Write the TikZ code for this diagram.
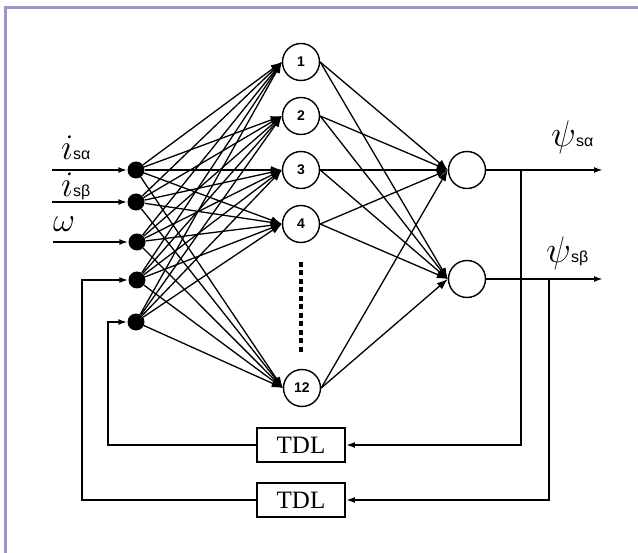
\RequirePackage{fix-cm}
\documentclass[tikz,border=0pt]{standalone}
\usepackage{fontspec}
\usetikzlibrary{arrows.meta}
\newfontfamily\subf{Liberation Sans}
\newfontfamily\tdlf{Liberation Serif}
\definecolor{framec}{RGB}{155,148,205}
\begin{document}
\begin{tikzpicture}[x=1pt,y=-1pt,
 dot/.style={circle,fill=black,inner sep=0pt,minimum size=17pt},
 neuron/.style={circle,draw=black,line width=1.4pt,inner sep=0pt,minimum size=37pt,font=\subf\bfseries\fontsize{14}{14}\selectfont},
 tdl/.style={draw,line width=1.8pt,minimum width=88pt,minimum height=34pt,inner sep=0pt,font=\tdlf\fontsize{25}{25}\selectfont},
 conn/.style={line width=1.3pt,-{Latex[length=11pt,width=8pt]}},
 inl/.style={line width=1.9pt,-{Latex[length=9pt,width=6pt]}},
 fb/.style={line width=1.9pt},
 lab/.style={anchor=base west,inner sep=0pt}
]
\useasboundingbox (0,0) rectangle (638,553);
\fill[white] (0,0) rectangle (638,553);
\draw[framec,line width=3pt] (5,553) -- (5,8) -- (638,8);

% input dots
\node[dot] (d1) at (136,170) {};
\node[dot] (d2) at (136,202) {};
\node[dot] (d3) at (137,242) {};
\node[dot] (d4) at (137,280) {};
\node[dot] (d5) at (136,322) {};

% hidden neurons
\node[neuron] (h1) at (301,62) {1};
\node[neuron] (h2) at (301,116) {2};
\node[neuron] (h3) at (301,170) {3};
\node[neuron] (h4) at (301,224) {4};
\node[neuron] (h12) at (302,388) {12};

% output neurons
\node[neuron] (o1) at (467,170) {};
\node[neuron] (o2) at (467,279) {};

% TDL boxes
\node[tdl] (tdl1) at (301,445) {TDL};
\node[tdl] (tdl2) at (301,500) {TDL};

% ellipsis
\coordinate (v1) at (301,262);
\coordinate (v2) at (301,353);
\draw[line width=4pt,dash pattern=on 5pt off 3.5pt] (v1) -- (v2);

% input to hidden
\foreach \i in {1,...,5}
  \foreach \j in {1,2,3,4,12}
    \draw[conn] (d\i) -- (h\j.west);

% hidden to output
\foreach \j in {1,2,3,4,12}
  \foreach \k in {1,2}
    \draw[conn] (h\j.east) -- (o\k.west);

% inputs
\coordinate (s1) at (52,170);
\coordinate (s2) at (52,202);
\coordinate (s3) at (53,242);
\draw[inl] (s1) -- (d1);
\draw[inl] (s2) -- (d2);
\draw[inl] (s3) -- (d3);

% outputs
\coordinate (e1) at (603,170);
\coordinate (e2) at (603,279);
\draw[inl] (o1.east) -- (e1);
\draw[inl] (o2.east) -- (e2);

% feedback
\coordinate (t1) at (521,170);
\coordinate (t2) at (549,279);
\coordinate (f5) at (108,322);
\coordinate (f4) at (82,280);
\draw[fb,-{Latex[length=9pt,width=6pt]}] (t1) |- (tdl1.east);
\draw[fb,-{Latex[length=9pt,width=6pt]}] (t2) |- (tdl2.east);
\draw[fb,-{Latex[length=9pt,width=6pt]}] (tdl1.west) -| (f5) -- (d5);
\draw[fb,-{Latex[length=9pt,width=6pt]}] (tdl2.west) -| (f4) -- (d4);

% labels
\node[lab] (lia) at (61,160) {\fontsize{36}{36}\selectfont$i$\subf\fontsize{16}{16}\selectfont sα};
\node[lab] (lib) at (61,197) {\fontsize{36}{36}\selectfont$i$\subf\fontsize{16}{16}\selectfont sβ};
\node[lab] (lw) at (53,232) {\fontsize{34}{34}\selectfont$\omega$};
\node[lab] (lpa) at (551,147) {\fontsize{37}{37}\selectfont$\psi$\subf\fontsize{16}{16}\selectfont sα};
\node[lab] (lpb) at (546,263) {\fontsize{37}{37}\selectfont$\psi$\subf\fontsize{16}{16}\selectfont sβ};
\end{tikzpicture}
\end{document}
